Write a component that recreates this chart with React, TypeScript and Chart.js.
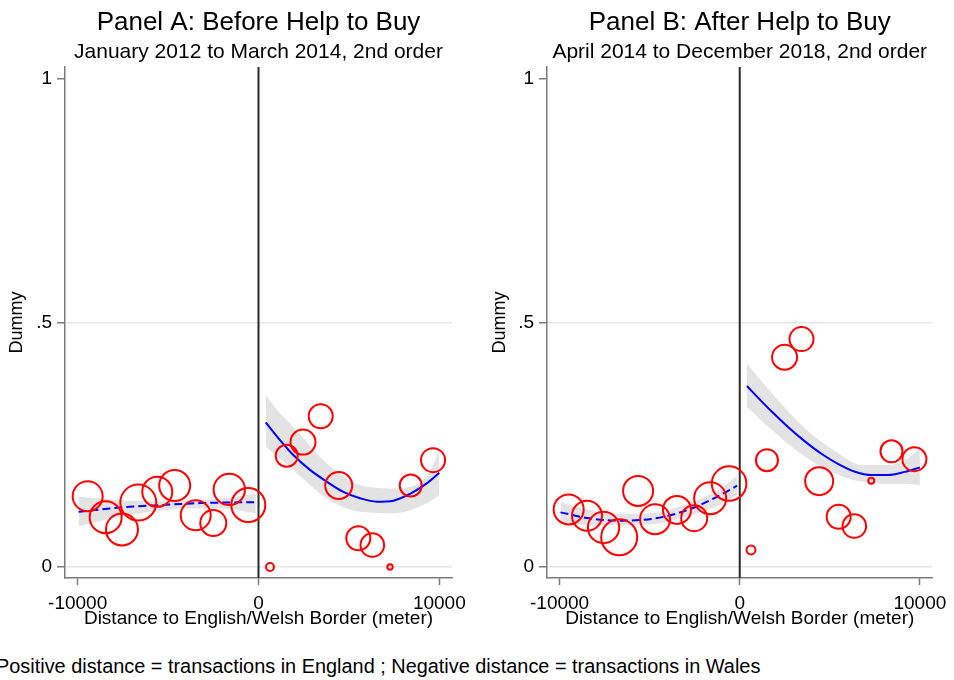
import React, { useEffect, useRef } from "react";
import { Chart, registerables } from "chart.js";

Chart.register(...registerables);

const FONT = '"Liberation Sans", Arial, Helvetica, sans-serif';

// ---- shared axis ticks ----
const xTickValues = [-10000, 0, 10000];
const xTickLabels = ["-10000", "0", "10000"];
const yTickValues = [0, 0.5, 1];
const yTickLabels = ["0", ".5", "1"];

// ---- Panel A: Before Help to Buy ----
const binXA = [-9447, -8451, -7550, -6648, -5597, -4635, -3473, -2500, -1615, -564, 636, 1560, 2461, 3440, 4436, 5520, 6294, 7273, 8418, 9652];
const binYA = [0.145, 0.102, 0.077, 0.132, 0.154, 0.167, 0.106, 0.09, 0.159, 0.127, 0.0, 0.228, 0.256, 0.309, 0.167, 0.059, 0.045, 0.0, 0.167, 0.219];
const binCountA = [225, 256, 256, 324, 225, 240, 225, 169, 246, 289, 16, 121, 156, 144, 182, 144, 139, 7, 121, 144];

const fitLeftXA = [-9950, -8213, -6925, -5448, -4342, -3236, -2129, -1023, -150];
const fitLeftYA = [0.113, 0.12, 0.124, 0.127, 0.129, 0.131, 0.132, 0.1326, 0.133];
const bandLeftXA = [-9950, -8000, -6000, -4000, -2000, -150];
const bandLeftHiA = [0.144, 0.138, 0.135, 0.136, 0.141, 0.15];
const bandLeftLoA = [0.083, 0.101, 0.113, 0.12, 0.12, 0.11];

const fitRightXA = [400, 1189, 1925, 2848, 3772, 4690, 5614, 6538, 7461, 8380, 9303, 10000];
const fitRightYA = [0.2965, 0.26, 0.2295, 0.199, 0.175, 0.154, 0.141, 0.134, 0.136, 0.15, 0.1715, 0.193];
const bandRightXA = [400, 1189, 1925, 3772, 5614, 7461, 9303, 10000];
const bandRightHiA = [0.352, 0.315, 0.2875, 0.2125, 0.168, 0.161, 0.185, 0.24];
const bandRightLoA = [0.2465, 0.222, 0.199, 0.141, 0.113, 0.11, 0.1305, 0.1475];

// ---- Panel B: After Help to Buy ----
const binXB = [-9497, -8479, -7561, -6692, -5642, -4701, -3485, -2528, -1643, -592, 625, 1510, 2489, 3429, 4408, 5492, 6361, 7301, 8424, 9696];
const binYB = [0.118, 0.105, 0.081, 0.061, 0.156, 0.098, 0.117, 0.1, 0.141, 0.171, 0.035, 0.219, 0.43, 0.467, 0.176, 0.103, 0.084, 0.177, 0.237, 0.221];
const binCountB = [225, 225, 246, 324, 225, 225, 196, 169, 256, 299, 20, 121, 156, 144, 196, 144, 139, 9, 121, 144];

const fitLeftXB = [-9950, -8352, -6508, -4664, -3374, -2452, -1715, -793, -150];
const fitLeftYB = [0.112, 0.0998, 0.095, 0.0998, 0.111, 0.123, 0.1355, 0.153, 0.1666];
const bandLeftXB = [-9950, -8352, -6508, -4664, -2821, -1346, -150];
const bandLeftHiB = [0.1325, 0.117, 0.1086, 0.111, 0.131, 0.154, 0.1865];
const bandLeftLoB = [0.0895, 0.086, 0.086, 0.088, 0.105, 0.1236, 0.1475];

const fitRightXB = [400, 1051, 1788, 2710, 3633, 4554, 5476, 6399, 7318, 8241, 9165, 10000];
const fitRightYB = [0.371, 0.3456, 0.318, 0.286, 0.257, 0.2316, 0.211, 0.1953, 0.1885, 0.1885, 0.195, 0.204];
const bandRightXB = [400, 1788, 3633, 5476, 6766, 8241, 9165, 10000];
const bandRightHiB = [0.417, 0.356, 0.284, 0.233, 0.209, 0.209, 0.219, 0.243];
const bandRightLoB = [0.328, 0.281, 0.226, 0.1885, 0.175, 0.17, 0.17, 0.168];

const titleA = "Panel A: Before Help to Buy";
const subtitleA = "January 2012 to March 2014, 2nd order";
const titleB = "Panel B: After Help to Buy";
const subtitleB = "April 2014 to December 2018, 2nd order";
const xAxisTitle = "Distance to English/Welsh Border (meter)";
const yAxisTitle = "Dummy";
const footnote = "Positive distance = transactions in England ; Negative distance = transactions in Wales";

const RED = "#ff0000";
const BLUE = "#0000ff";
const BAND = "#e3e3e3";
const AXIS = "#7a7a7a";
const GRID = "#e6e6e6";
const NONE = "rgba(0,0,0,0)";

type PanelProps = {
  left: number;
  width: number;
  yWidth: number;
  padRight: number;
  yTitlePad: number;
  title: string;
  subtitle: string;
  binX: number[];
  binY: number[];
  binCount: number[];
  fitLX: number[];
  fitLY: number[];
  bandLX: number[];
  bandLHi: number[];
  bandLLo: number[];
  fitRX: number[];
  fitRY: number[];
  bandRX: number[];
  bandRHi: number[];
  bandRLo: number[];
};

const pts = (xs: number[], ys: number[]) => xs.map((x, i) => ({ x, y: ys[i] }));

const zeroLine = {
  id: "zeroLine",
  beforeDatasetsDraw(chart: any) {
    const { ctx, chartArea, scales } = chart;
    const x = scales.x.getPixelForValue(0);
    ctx.save();
    ctx.strokeStyle = "#2a2a2a";
    ctx.lineWidth = 2;
    ctx.beginPath();
    ctx.moveTo(x, chartArea.top);
    ctx.lineTo(x, chartArea.bottom);
    ctx.stroke();
    ctx.restore();
  },
};

function Panel(p: PanelProps) {
  const ref = useRef<HTMLCanvasElement>(null);
  useEffect(() => {
    if (!ref.current) return;
    const bandLine = (xs: number[], ys: number[], fill: any) => ({
      type: "line" as const,
      data: pts(xs, ys),
      borderWidth: 0,
      borderColor: NONE,
      backgroundColor: BAND,
      pointRadius: 0,
      fill,
      cubicInterpolationMode: "monotone" as const,
      order: 2,
    });
    const chart = new Chart(ref.current, {
      type: "scatter",
      data: {
        datasets: [
          {
            type: "scatter",
            data: pts(p.binX, p.binY),
            pointRadius: p.binCount.map((c) => Math.sqrt(c)),
            pointBorderColor: RED,
            pointBackgroundColor: NONE,
            pointBorderWidth: 2,
            order: 0,
          } as any,
          {
            type: "line",
            data: pts(p.fitLX, p.fitLY),
            borderColor: BLUE,
            borderWidth: 2,
            borderDash: [8, 4],
            pointRadius: 0,
            fill: false,
            cubicInterpolationMode: "monotone",
            order: 1,
          },
          {
            type: "line",
            data: pts(p.fitRX, p.fitRY),
            borderColor: BLUE,
            borderWidth: 2,
            pointRadius: 0,
            fill: false,
            cubicInterpolationMode: "monotone",
            order: 1,
          },
          bandLine(p.bandLX, p.bandLLo, false),
          bandLine(p.bandLX, p.bandLHi, "-1"),
          bandLine(p.bandRX, p.bandRLo, false),
          bandLine(p.bandRX, p.bandRHi, "-1"),
        ] as any,
      },
      options: {
        responsive: false,
        animation: false,
        layout: { padding: { left: 0, right: p.padRight, top: 0, bottom: 0 } },
        plugins: {
          legend: { display: false },
          tooltip: { enabled: false },
          title: {
            display: true,
            text: p.title,
            color: "#000",
            font: { family: FONT, size: 26, weight: "normal" },
            padding: { top: 7.4, bottom: 0 },
            fullSize: false,
          },
          subtitle: {
            display: true,
            text: p.subtitle,
            color: "#000",
            font: { family: FONT, size: 21, weight: "normal" },
            padding: { top: 0.8, bottom: 2.4 },
            fullSize: false,
          },
        },
        scales: {
          x: {
            type: "linear",
            min: -10700,
            max: 10700,
            afterBuildTicks: (s: any) => {
              s.ticks = xTickValues.map((v) => ({ value: v }));
            },
            afterFit: (s: any) => {
              s.height = 62;
            },
            grid: {
              drawOnChartArea: false,
              drawTicks: true,
              tickLength: 7,
              tickColor: AXIS,
              tickWidth: 1.5,
            },
            border: { color: AXIS, width: 1.5 },
            ticks: {
              color: "#000",
              font: { family: FONT, size: 19 },
              padding: 7,
              maxRotation: 0,
              autoSkip: false,
              callback: (v: any) => xTickLabels[xTickValues.indexOf(Number(v))],
            },
            title: {
              display: true,
              text: xAxisTitle,
              color: "#000",
              font: { family: FONT, size: 19 },
              padding: { top: 0, bottom: 10 },
            },
          },
          y: {
            type: "linear",
            min: -0.0225,
            max: 1.0246,
            afterBuildTicks: (s: any) => {
              s.ticks = yTickValues.map((v) => ({ value: v }));
            },
            afterFit: (s: any) => {
              s.width = p.yWidth;
            },
            grid: {
              color: (ctx: any) => (ctx.tick && ctx.tick.value === 1 ? NONE : GRID),
              lineWidth: 1.5,
              drawTicks: true,
              tickLength: 8,
              tickColor: AXIS,
              tickWidth: 1.5,
            },
            border: { color: AXIS, width: 1.5 },
            ticks: {
              color: "#000",
              font: { family: FONT, size: 19 },
              padding: 5,
              autoSkip: false,
              callback: (v: any) => yTickLabels[yTickValues.indexOf(Number(v))],
            },
            title: {
              display: true,
              text: yAxisTitle,
              color: "#000",
              font: { family: FONT, size: 18 },
              padding: { top: p.yTitlePad, bottom: 0 },
            },
          },
        },
      } as any,
      plugins: [zeroLine],
    });
    return () => chart.destroy();
  }, []);
  return (
    <canvas
      ref={ref}
      width={p.width}
      height={640}
      style={{ position: "absolute", left: p.left, top: 0, width: p.width, height: 640 }}
    />
  );
}

export default function App() {
  return (
    <div
      style={{
        position: "absolute",
        left: 0,
        top: 0,
        width: 954,
        height: 680,
        background: "#fff",
        overflow: "hidden",
      }}
    >
      <Panel
        left={0}
        width={477}
        yWidth={65}
        padRight={25}
        yTitlePad={6.5}
        title={titleA}
        subtitle={subtitleA}
        binX={binXA}
        binY={binYA}
        binCount={binCountA}
        fitLX={fitLeftXA}
        fitLY={fitLeftYA}
        bandLX={bandLeftXA}
        bandLHi={bandLeftHiA}
        bandLLo={bandLeftLoA}
        fitRX={fitRightXA}
        fitRY={fitRightYA}
        bandRX={bandRightXA}
        bandRHi={bandRightHiA}
        bandRLo={bandRightLoA}
      />
      <Panel
        left={480}
        width={474}
        yWidth={67}
        padRight={20}
        yTitlePad={9}
        title={titleB}
        subtitle={subtitleB}
        binX={binXB}
        binY={binYB}
        binCount={binCountB}
        fitLX={fitLeftXB}
        fitLY={fitLeftYB}
        bandLX={bandLeftXB}
        bandLHi={bandLeftHiB}
        bandLLo={bandLeftLoB}
        fitRX={fitRightXB}
        fitRY={fitRightYB}
        bandRX={bandRightXB}
        bandRHi={bandRightHiB}
        bandRLo={bandRightLoB}
      />
      <div
        style={{
          position: "absolute",
          left: -4,
          top: 656,
          fontFamily: FONT,
          fontSize: 19.9,
          lineHeight: "20px",
          color: "#000",
          whiteSpace: "nowrap",
        }}
      >
        {footnote}
      </div>
    </div>
  );
}
